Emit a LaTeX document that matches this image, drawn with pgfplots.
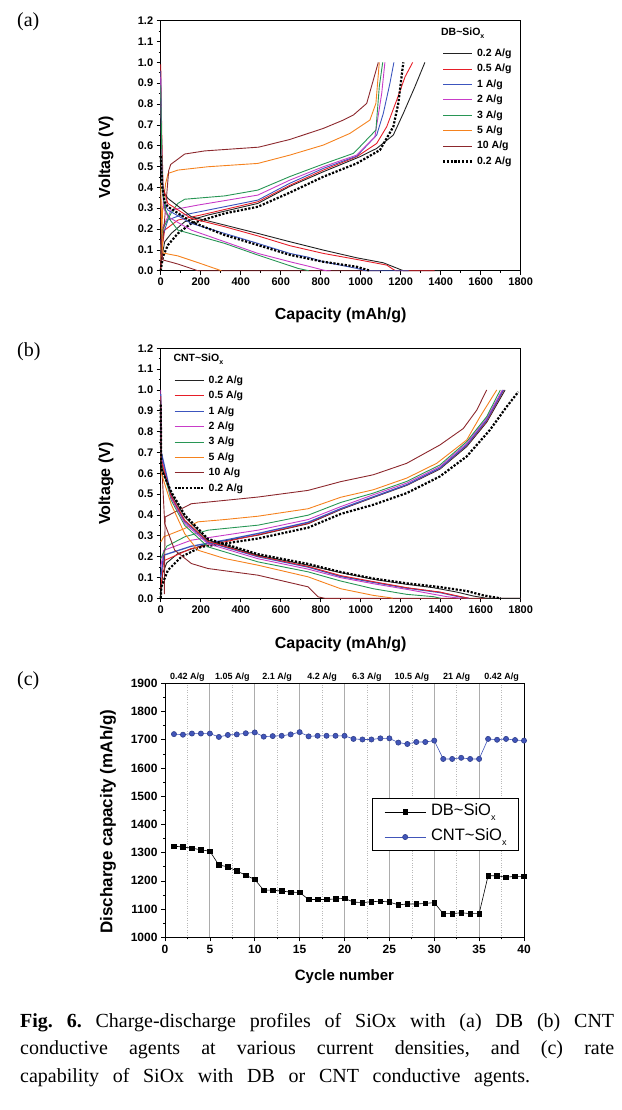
\documentclass[border=0pt]{standalone}
\usepackage{fontspec}
\setmainfont{Liberation Serif}
\newfontfamily\arial{Liberation Sans}
\usepackage{pgfplots}
\pgfplotsset{compat=1.18}

\definecolor{cblk}{RGB}{35,35,35}
\definecolor{cred}{RGB}{230,30,40}
\definecolor{cblu}{RGB}{60,85,190}
\definecolor{cmag}{RGB}{200,60,200}
\definecolor{cgrn}{RGB}{40,150,85}
\definecolor{corg}{RGB}{245,130,30}
\definecolor{cbrn}{RGB}{140,40,45}
\definecolor{cnt}{RGB}{65,85,185}

\pgfplotsset{
  every axis/.append style={
    scale only axis, anchor=south west,
    axis line style={line width=0.8pt},
    tick pos=left, tick align=outside,
    major tick length=4pt, minor tick length=2pt,
    every tick/.style={black, line width=0.7pt},
    /pgf/number format/assume math mode=true,
    /pgf/number format/1000 sep={},
    label style={font=\arial\bfseries\fontsize{16}{16}\selectfont},
  },
  vprof/.style={
    width=360pt, height=250pt,
    xmin=0, xmax=1800, ymin=0, ymax=1.2,
    xtick={0,200,...,1800}, minor x tick num=1,
    ytick={0,0.1,0.2,0.3,0.4,0.5,0.6,0.7,0.8,0.9,1.0,1.1,1.2}, minor y tick num=1,
    yticklabel style={/pgf/number format/.cd, fixed, fixed zerofill, precision=1},
    ticklabel style={font=\arial\bfseries\fontsize{11}{11}\selectfont},
    xlabel={Capacity (mAh/g)}, ylabel={Voltage (V)},
    legend cell align=left,
    legend image code/.code={\draw[##1] (0pt,0pt) -- (29pt,0pt);},
  },
  cv/.style={line width=0.9pt},
  dotb/.style={black, line width=2.2pt, dash pattern=on 2.2pt off 1.6pt},
}

\begin{document}
\begin{tikzpicture}

% ---------------- (a) DB~SiOx ----------------
\node[anchor=west, font=\fontsize{20}{20}\selectfont, inner sep=0pt] at (17pt,-22pt) {(a)};
\begin{axis}[vprof, at={(160.7pt,-270.7pt)},
  xlabel style={at={(axis description cs:0.5,-0.177)}, anchor=center},
  ylabel style={at={(axis description cs:-0.152,0.455)}, anchor=center},
  legend style={at={(0.7806,0.89)}, anchor=north west, draw=none, fill=none,
    inner sep=0pt, row sep=4.9pt, column sep=4pt,
    font=\arial\bfseries\fontsize{10.5}{10.5}\selectfont,
    nodes={inner sep=0pt, text height=8pt, text depth=2.5pt}},
  clip=false]
% charge
\addplot[cv, cblk] coordinates {(0,0) (5,0.06) (20,0.139) (53,0.179) (120,0.235) (236,0.267) (486,0.323) (646,0.405) (813,0.475) (996,0.547) (1080,0.587) (1163,0.651) (1213,0.755) (1271,0.883) (1321,1.0)};
\addlegendentry{0.2 A/g}
\addplot[cv, cred] coordinates {(0,0) (5,0.10) (20,0.195) (86,0.243) (236,0.275) (486,0.331) (646,0.41) (813,0.483) (980,0.547) (1080,0.611) (1130,0.691) (1180,0.819) (1222,0.931) (1260,1.0)};
\addlegendentry{0.5 A/g}
\addplot[cv, cblu] coordinates {(0,0.05) (5,0.15) (36,0.243) (86,0.262) (236,0.291) (486,0.339) (646,0.42) (813,0.491) (980,0.55) (1080,0.651) (1113,0.755) (1146,0.899) (1166,1.0)};
\addlegendentry{1 A/g}
\addplot[cv, cmag] coordinates {(0,0.1) (5,0.2) (53,0.291) (186,0.315) (486,0.363) (646,0.435) (813,0.499) (980,0.555) (1071,0.643) (1105,0.851) (1121,1.0)};
\addlegendentry{2 A/g}
\addplot[cv, cgrn] coordinates {(0,0.1) (10,0.2) (60,0.29) (86,0.323) (120,0.343) (320,0.359) (486,0.387) (646,0.452) (813,0.512) (963,0.563) (988,0.587) (1076,0.675) (1093,0.884) (1110,1.0)};
\addlegendentry{3 A/g}
\addplot[cv, corg] coordinates {(0,0.05) (10,0.3) (25,0.42) (37,0.467) (86,0.483) (236,0.499) (486,0.515) (646,0.555) (813,0.603) (946,0.659) (1046,0.723) (1076,0.803) (1093,1.0)};
\addlegendentry{5 A/g}
\addplot[cv, cbrn] coordinates {(0,0.02) (20,0.25) (40,0.48) (50,0.51) (120,0.56) (220,0.575) (490,0.593) (646,0.63) (813,0.683) (913,0.723) (963,0.747) (1030,0.803) (1088,1.0)};
\addlegendentry{10 A/g}
\addplot[dotb] coordinates {(0,0) (11,0.067) (36,0.123) (86,0.179) (153,0.227) (320,0.275) (486,0.307) (646,0.375) (813,0.451) (980,0.515) (1096,0.579) (1163,0.691) (1188,0.803) (1213,1.0)};
\addlegendentry{0.2 A/g}
% discharge
\addplot[cv, cbrn, forget plot] coordinates {(0,0.36) (5,0.10) (10,0.052) (86,0.032) (186,0) (1100,0)};
\addplot[cv, cblk, forget plot] coordinates {(0,0.56) (8,0.42) (20,0.37) (36,0.347) (100,0.30) (153,0.259) (320,0.219) (486,0.179) (646,0.139) (813,0.099) (980,0.062) (1113,0.038) (1163,0.019) (1205,0.003) (1215,0) (1400,0)};
\addplot[cv, cred, forget plot] coordinates {(0,0.99) (5,0.67) (12,0.40) (36,0.323) (153,0.251) (320,0.211) (486,0.167) (646,0.120) (813,0.083) (980,0.054) (1130,0.027) (1163,0.006) (1175,0) (1370,0)};
\addplot[cv, cblu, forget plot] coordinates {(0,0.96) (6,0.5) (15,0.33) (36,0.291) (153,0.227) (320,0.179) (486,0.131) (646,0.083) (737,0.065) (813,0.043) (980,0.011) (1013,0.003) (1025,0) (1240,0)};
\addplot[cv, cmag, forget plot] coordinates {(0,0.93) (6,0.45) (15,0.30) (36,0.259) (153,0.195) (320,0.139) (486,0.083) (646,0.043) (737,0.022) (813,0.003) (830,0) (850,0)};
\addplot[cv, cgrn, forget plot] coordinates {(0,0.89) (8,0.40) (20,0.30) (50,0.24) (86,0.195) (320,0.131) (486,0.075) (687,0.011) (740,0)};
\addplot[cv, corg, forget plot] coordinates {(0,0.42) (5,0.20) (11,0.085) (86,0.071) (186,0.039) (303,0)};
\addplot[dotb, forget plot] coordinates {(0,0.55) (8,0.40) (20,0.33) (36,0.307) (153,0.235) (320,0.171) (486,0.123) (646,0.076) (813,0.043) (980,0.019) (1046,0)};
\node[anchor=west, inner sep=0pt, font=\arial\bfseries\fontsize{10.5}{10.5}\selectfont] at (axis cs:1401,1.14) {DB\textasciitilde SiO\raisebox{-2.5pt}{\fontsize{7}{7}\selectfont x}};
\end{axis}

% ---------------- (b) CNT~SiOx ----------------
\node[anchor=west, font=\fontsize{20}{20}\selectfont, inner sep=0pt] at (17pt,-352pt) {(b)};
\begin{axis}[vprof, at={(160.7pt,-598.3pt)},
  xlabel style={at={(axis description cs:0.5,-0.186)}, anchor=center},
  ylabel style={at={(axis description cs:-0.152,0.459)}, anchor=center},
  legend style={at={(0.035,0.893)}, anchor=north west, draw=none, fill=none,
    inner sep=0pt, row sep=4.9pt, column sep=4pt,
    font=\arial\bfseries\fontsize{10.5}{10.5}\selectfont,
    nodes={inner sep=0pt, text height=8pt, text depth=2.5pt}},
  clip=false]
% charge
\addplot[cv, cblk] coordinates {(0,0) (10,0.12) (30,0.17) (86,0.215) (236,0.263) (486,0.303) (737,0.358) (900,0.426) (1063,0.484) (1230,0.542) (1396,0.62) (1530,0.728) (1630,0.845) (1722,1.0)};
\addlegendentry{0.2 A/g}
\addplot[cv, cred] coordinates {(0,0.04) (15,0.18) (153,0.239) (320,0.271) (486,0.305) (737,0.36) (900,0.428) (1063,0.486) (1230,0.544) (1396,0.623) (1530,0.733) (1630,0.85) (1716,1.0)};
\addlegendentry{0.5 A/g}
\addplot[cv, cblu, line width=1.3pt] coordinates {(0,0.1) (15,0.207) (153,0.25) (320,0.279) (486,0.311) (737,0.365) (900,0.43) (1063,0.487) (1230,0.545) (1396,0.625) (1530,0.736) (1630,0.856) (1713,1.0)};
\addlegendentry{1 A/g}
\addplot[cv, cmag] coordinates {(0,0.15) (15,0.23) (153,0.279) (320,0.303) (486,0.327) (737,0.378) (900,0.44) (1063,0.497) (1230,0.553) (1396,0.632) (1530,0.744) (1630,0.864) (1708,1.0)};
\addlegendentry{2 A/g}
\addplot[cv, cgrn] coordinates {(0,0.19) (30,0.25) (120,0.295) (236,0.327) (486,0.351) (737,0.399) (900,0.46) (1063,0.505) (1230,0.561) (1396,0.64) (1530,0.752) (1630,0.872) (1698,1.0)};
\addlegendentry{3 A/g}
\addplot[cv, corg] coordinates {(0,0.27) (15,0.295) (120,0.335) (186,0.367) (320,0.378) (486,0.394) (737,0.43) (900,0.485) (1063,0.521) (1230,0.577) (1380,0.648) (1530,0.76) (1597,0.872) (1680,1.0)};
\addlegendentry{5 A/g}
\addplot[cv, cbrn] coordinates {(18,0.02) (22,0.39) (70,0.414) (153,0.454) (320,0.47) (486,0.486) (737,0.518) (900,0.56) (1063,0.593) (1230,0.648) (1396,0.736) (1513,0.815) (1580,0.903) (1630,1.0)};
\addlegendentry{10 A/g}
\addplot[dotb] coordinates {(0,0) (3,0.055) (36,0.135) (103,0.199) (203,0.247) (320,0.263) (486,0.287) (737,0.339) (900,0.405) (1063,0.449) (1230,0.505) (1396,0.585) (1530,0.681) (1646,0.808) (1730,0.92) (1788,0.991)};
\addlegendentry{0.2 A/g}
% discharge
\addplot[cv, cbrn, forget plot] coordinates {(0,0.72) (10,0.55) (20,0.359) (70,0.231) (153,0.167) (236,0.143) (486,0.111) (737,0.055) (787,0.007) (820,0) (1800,0)};
\addplot[cv, corg, forget plot] coordinates {(0,0.97) (3,0.6) (53,0.45) (120,0.31) (186,0.231) (320,0.191) (486,0.159) (737,0.103) (900,0.046) (1063,0.014) (1146,0.003) (1160,0)};
\addplot[cv, cgrn, forget plot] coordinates {(0,0.96) (3,0.65) (53,0.47) (120,0.35) (236,0.247) (486,0.175) (737,0.127) (900,0.083) (1063,0.046) (1230,0.019) (1363,0.008) (1400,0)};
\addplot[cv, cmag, forget plot] coordinates {(0,1.0) (3,0.68) (53,0.48) (120,0.36) (236,0.262) (486,0.19) (737,0.14) (900,0.099) (1063,0.07) (1230,0.043) (1430,0.008) (1500,0)};
\addplot[cv, cblu, line width=1.3pt, forget plot] coordinates {(0,0.98) (3,0.7) (53,0.49) (120,0.37) (236,0.27) (486,0.2) (737,0.15) (900,0.105) (1063,0.077) (1230,0.049) (1396,0.028) (1480,0.01) (1540,0)};
\addplot[cv, cred, forget plot] coordinates {(0,0.97) (3,0.66) (53,0.49) (120,0.375) (236,0.273) (486,0.203) (737,0.153) (900,0.109) (1063,0.08) (1230,0.051) (1396,0.03) (1480,0.012) (1540,0)};
\addplot[cv, cblk, forget plot] coordinates {(0,0.95) (3,0.63) (53,0.502) (120,0.39) (236,0.279) (486,0.207) (737,0.159) (900,0.123) (1063,0.091) (1230,0.067) (1363,0.051) (1480,0.03) (1563,0.011) (1613,0.003) (1630,0) (1800,0)};
\addplot[dotb, forget plot] coordinates {(0,0.93) (3,0.62) (53,0.51) (120,0.40) (236,0.285) (486,0.212) (737,0.165) (900,0.126) (1063,0.095) (1230,0.072) (1396,0.054) (1530,0.035) (1613,0.014) (1680,0.003) (1700,0)};
\node[anchor=west, inner sep=0pt, font=\arial\bfseries\fontsize{10.5}{10.5}\selectfont] at (axis cs:63,1.147) {CNT\textasciitilde SiO\raisebox{-2.5pt}{\fontsize{7}{7}\selectfont x}};
\end{axis}

% ---------------- (c) rate capability ----------------
\node[anchor=west, font=\fontsize{20}{20}\selectfont, inner sep=0pt] at (17pt,-681pt) {(c)};
\begin{axis}[at={(165pt,-937.3pt)}, width=359pt, height=254pt,
  xmin=0, xmax=40, ymin=1000, ymax=1900,
  xtick={0,5,...,40}, minor x tick num=1,
  ytick={1000,1100,...,1900}, minor y tick num=1,
  xmajorgrids, xminorgrids,
  major grid style={gray!65, line width=0.8pt},
  minor grid style={gray!55, dotted, line width=0.6pt},
  ticklabel style={font=\arial\bfseries\fontsize{12}{12}\selectfont},
  xlabel={Cycle number}, ylabel={Discharge capacity (mAh/g)},
  xlabel style={at={(axis description cs:0.5,-0.156)}, anchor=center, font=\arial\bfseries\fontsize{15}{15}\selectfont},
  ylabel style={at={(axis description cs:-0.159,0.455)}, anchor=center, font=\arial\bfseries\fontsize{17}{17}\selectfont},
  legend cell align=left,
  legend image code/.code={\draw[mark repeat=2, mark phase=2, #1] plot coordinates {(0pt,0pt) (20.5pt,0pt) (41pt,0pt)};},
  legend style={at={(0.5766,0.548)}, anchor=north west, draw=black, line width=0.8pt,
    fill=white, inner xsep=12pt, inner ysep=5pt, row sep=8pt, column sep=5pt,
    font=\arial\fontsize{16.5}{16.5}\selectfont,
    nodes={inner sep=0pt, text height=12pt, text depth=5pt}},
  clip=false]
\addplot[black, line width=0.6pt, mark=square*, mark size=2.3pt, mark options={solid}] coordinates {
 (1,1323) (2,1320) (3,1316) (4,1310) (5,1305) (6,1256) (7,1250) (8,1235) (9,1220) (10,1205)
 (11,1167) (12,1167) (13,1164) (14,1160) (15,1159) (16,1134) (17,1134) (18,1134) (19,1136) (20,1138)
 (21,1125) (22,1123) (23,1126) (24,1128) (25,1125) (26,1115) (27,1118) (28,1118) (29,1120) (30,1123)
 (31,1084) (32,1084) (33,1087) (34,1084) (35,1084) (36,1218) (37,1218) (38,1213) (39,1216) (40,1216)};
\addlegendentry{DB\textasciitilde SiO\raisebox{-5pt}{\fontsize{9}{9}\selectfont x}}
\addplot[cnt, line width=0.6pt, mark=*, mark size=2.6pt, mark options={fill=cnt, draw=cnt!75!black}] coordinates {
 (1,1720) (2,1718) (3,1722) (4,1722) (5,1722) (6,1710) (7,1717) (8,1719) (9,1723) (10,1726)
 (11,1711) (12,1713) (13,1714) (14,1719) (15,1727) (16,1712) (17,1714) (18,1714) (19,1714) (20,1714)
 (21,1703) (22,1701) (23,1701) (24,1705) (25,1705) (26,1690) (27,1685) (28,1692) (29,1692) (30,1697)
 (31,1632) (32,1632) (33,1636) (34,1632) (35,1632) (36,1703) (37,1700) (38,1703) (39,1699) (40,1697)};
\addlegendentry{CNT\textasciitilde SiO\raisebox{-5pt}{\fontsize{9}{9}\selectfont x}}
% current-density labels above the frame
\foreach \c/\t in {2.5/{0.42 A/g}, 7.5/{1.05 A/g}, 12.5/{2.1 A/g}, 17.5/{4.2 A/g}, 22.5/{6.3 A/g}, 27.5/{10.5 A/g}, 32.5/{21 A/g}, 37.5/{0.42 A/g}}{
  \edef\tmp{\noexpand\node[anchor=south, inner sep=1.5pt, font=\noexpand\arial\noexpand\bfseries\noexpand\fontsize{9}{9}\noexpand\selectfont] at (axis cs:\c,1900) {\t};}
  \tmp
}
\end{axis}

% ---------------- caption ----------------
\node[anchor=north west, text width=594pt, align=justify, inner sep=0pt,
  font=\fontsize{20}{27.5}\selectfont] at (20pt,-1013pt)
  {\frenchspacing\textbf{Fig. 6.} Charge-discharge profiles of SiOx with (a) DB (b) CNT\linebreak
   conductive agents at various current densities, and (c) rate\linebreak
   \makebox[510pt][s]{capability of SiOx with DB or CNT conductive agents.}};

\pgfresetboundingbox
\path[use as bounding box] (0pt,0pt) rectangle (621pt,-1110pt);
\end{tikzpicture}
\end{document}
